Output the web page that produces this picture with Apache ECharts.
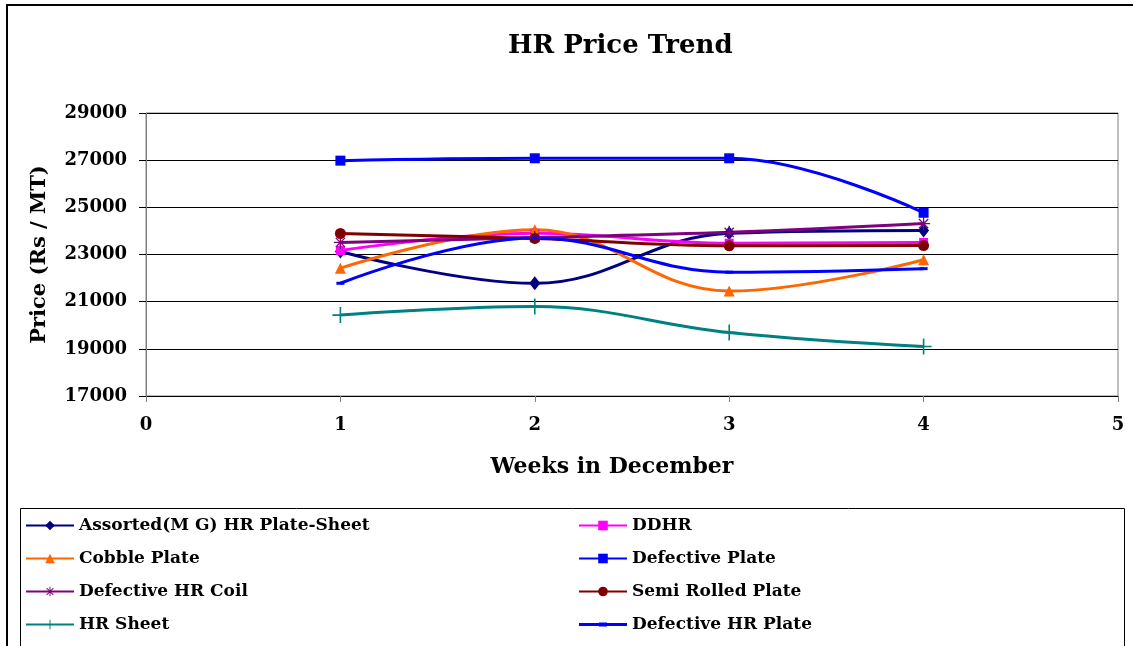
<!DOCTYPE html>
<html lang="en">
<head>
  <meta charset="UTF-8">
  <title>HR Price Trend</title>
  <script src="https://cdn.jsdelivr.net/npm/echarts@6/dist/echarts.min.js"></script>
  <style>
    html, body { margin: 0; padding: 0; background: #fff; }
    #main { width: 1133px; height: 646px; }
  </style>
</head>
<body>
  <div id="main"></div>
  <script>
    const weeks = [1, 2, 3, 4];
    const seriesNames = [
      'Assorted(M G) HR Plate-Sheet', 'DDHR',
      'Cobble Plate', 'Defective Plate',
      'Defective HR Coil', 'Semi Rolled Plate',
      'HR Sheet', 'Defective HR Plate'
    ];
    const assorted = [23130, 21780, 23900, 24020];
    const ddhr = [23170, 23900, 23480, 23510];
    const cobble = [22420, 24050, 21450, 22780];
    const defectivePlate = [26980, 27080, 27080, 24770];
    const defectiveCoil = [23510, 23720, 23940, 24310];
    const semiRolled = [23890, 23680, 23370, 23380];
    const hrSheet = [20430, 20790, 19690, 19100];
    const defectiveHrPlate = [21780, 23700, 22250, 22400];
    const yTicks = [17000, 19000, 21000, 23000, 25000, 27000, 29000];

    const font = 'DejaVu Serif';
    const star = 'path://M9,0H11V7.6L16.4,2.2L17.8,3.6L12.4,9H20V11H12.4L17.8,16.4L16.4,17.8L11,12.4V20H9V12.4L3.6,17.8L2.2,16.4L7.6,11H0V9H7.6L2.2,3.6L3.6,2.2L9,7.6Z';
    const plus = 'path://M9,0H11V9H20V11H11V20H9V11H0V9H9Z';
    const dash = 'path://M0,0H20V6H0Z';
    // legend icon for the dash-marker series: a line with a short thick dash
    const dashLegend = 'path://M0,0H0.01V12H0Z M0,4.5H48V7.5H0Z M20,4H28V8H20Z';

    const defs = [
      { data: assorted, color: '#000080', symbol: 'diamond', size: [11, 14] },
      { data: ddhr, color: '#FF00FF', symbol: 'rect', size: 9 },
      { data: cobble, color: '#FF6600', symbol: 'triangle', size: 11 },
      { data: defectivePlate, color: '#0000FF', symbol: 'rect', size: 10 },
      { data: defectiveCoil, color: '#800080', symbol: star, size: 13 },
      { data: semiRolled, color: '#800000', symbol: 'circle', size: 11 },
      { data: hrSheet, color: '#008080', symbol: plus, size: 16 },
      { data: defectiveHrPlate, color: '#0000FF', symbol: dash, size: [8, 3] }
    ];

    const series = defs.map((d, i) => ({
      name: seriesNames[i],
      type: 'line',
      smooth: 0.4,
      symbol: d.symbol,
      symbolSize: d.size,
      showAllSymbol: true,
      data: weeks.map((w, j) => [w, d.data[j]]),
      lineStyle: { color: d.color, width: 3 },
      itemStyle: { color: d.color },
      animation: false
    }));

    const legendCommon = {
      orient: 'vertical',
      top: 512,
      itemGap: 16,
      itemWidth: 48,
      itemHeight: 12,
      textStyle: { fontFamily: font, fontWeight: 'bold', fontSize: 17, color: '#000' }
    };
    const legendItem = n => n === 'Defective HR Plate' ? { name: n, icon: dashLegend } : { name: n };

    const chart = echarts.init(document.getElementById('main'));
    chart.setOption({
      backgroundColor: '#fff',
      title: {
        text: 'HR Price Trend',
        left: 503,
        top: 28,
        textStyle: { fontFamily: font, fontWeight: 'bold', fontSize: 26, color: '#000' }
      },
      grid: {
        left: 146, right: 15, top: 113, bottom: 250,
        show: true, borderColor: '#808080', borderWidth: 1
      },
      legend: [
        Object.assign({ left: 20, data: seriesNames.filter((n, i) => i % 2 === 0).map(legendItem) }, legendCommon),
        Object.assign({ left: 573, data: seriesNames.filter((n, i) => i % 2 === 1).map(legendItem) }, legendCommon)
      ],
      xAxis: {
        type: 'value',
        min: 0, max: 5, interval: 1,
        name: 'Weeks in December',
        nameLocation: 'middle',
        nameGap: 60,
        nameTextStyle: { fontFamily: font, fontWeight: 'bold', fontSize: 22, color: '#000', padding: [0, 40, 0, 0] },
        axisLine: { lineStyle: { color: '#000' } },
        axisTick: { show: true, length: 6, lineStyle: { color: '#808080' } },
        axisLabel: { fontFamily: font, fontWeight: 'bold', fontSize: 18, color: '#000', margin: 20 },
        splitLine: { show: false }
      },
      yAxis: {
        type: 'value',
        min: 17000, max: 29000, interval: 2000,
        name: 'Price (Rs / MT)',
        nameLocation: 'middle',
        nameGap: 96,
        nameTextStyle: { fontFamily: font, fontWeight: 'bold', fontSize: 21, color: '#000' },
        axisLine: { show: true, lineStyle: { color: '#808080' } },
        axisTick: { show: true, length: 7, inside: false, lineStyle: { color: '#000' } },
        axisLabel: {
          fontFamily: font, fontWeight: 'bold', fontSize: 18, color: '#000', margin: 19,
          formatter: v => yTicks.includes(v) ? String(v) : ''
        },
        splitLine: { show: true, lineStyle: { color: '#000', width: 1 } }
      },
      graphic: [
        { type: 'rect', shape: { x: 7, y: 5, width: 1140, height: 660 }, style: { fill: 'none', stroke: '#000', lineWidth: 2 }, silent: true },
        { type: 'rect', shape: { x: 20.5, y: 508.5, width: 1104, height: 160 }, style: { fill: 'none', stroke: '#000', lineWidth: 1 }, silent: true }
      ],
      series: series
    });
  </script>
</body>
</html>
